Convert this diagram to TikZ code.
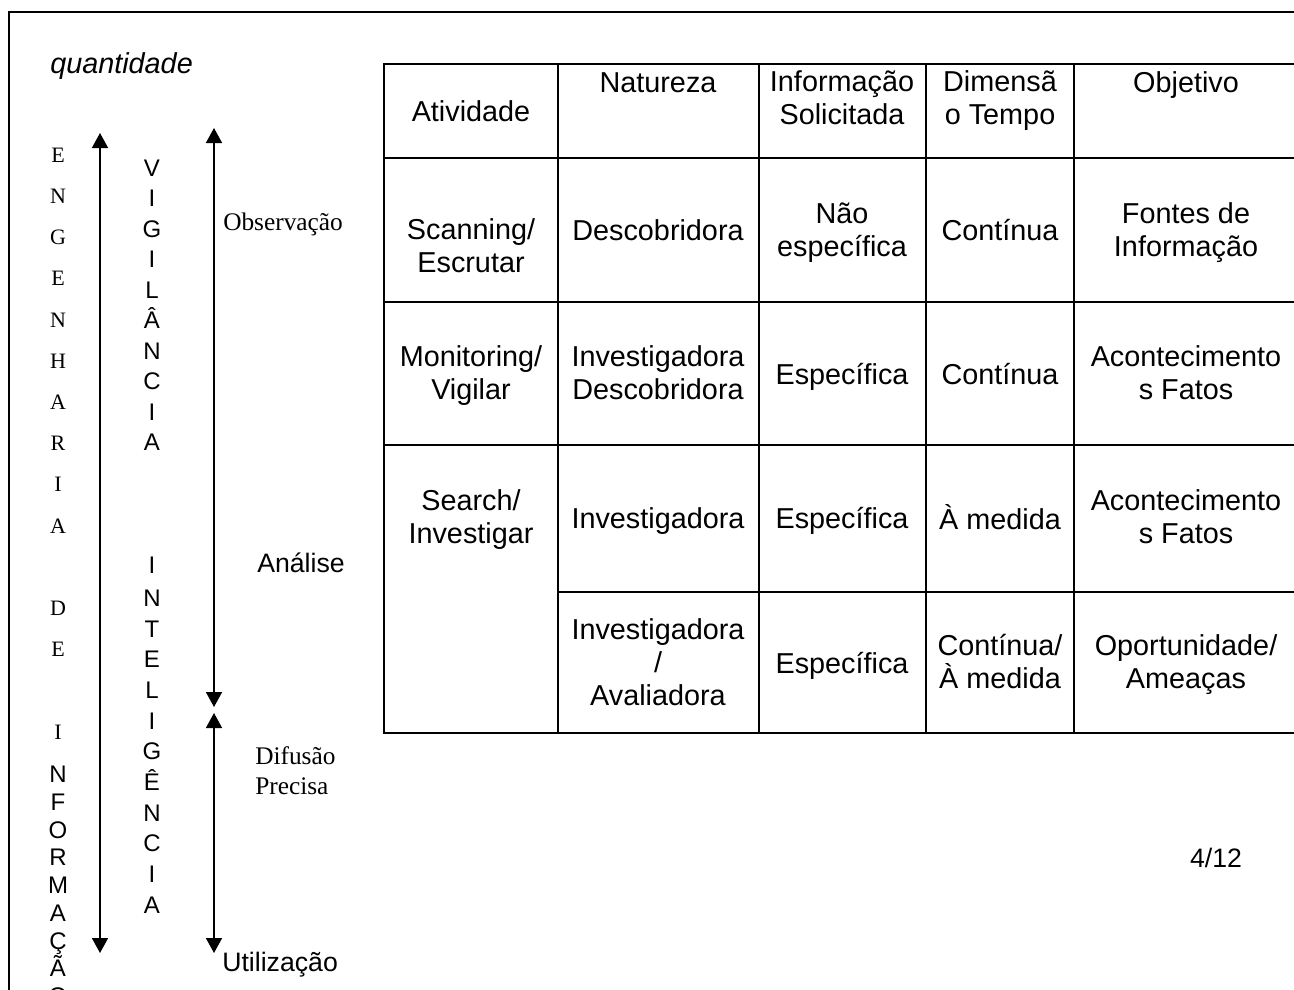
\documentclass[tikz,border=0pt]{standalone}
\usepackage{fontspec}
\setmainfont{Liberation Serif}
\newfontfamily\arialfont{Liberation Sans}
\usetikzlibrary{arrows.meta}

\tikzset{
  % struts on first and last line keep the vertical centring independent of the glyphs
  strutted/.style={inner sep=0pt, execute at begin node=\strut, execute at end node=\strut},
  cell/.style={strutted, align=center, font=\arialfont\fontsize{21.6}{24.75}\selectfont, yshift=-2.78pt},
  sanslabel/.style={strutted, align=left, font=\arialfont\fontsize{20}{23}\selectfont, yshift=-2.56pt},
  seriflabel/.style={strutted, align=left, font=\fontsize{19}{22.5}\selectfont, yshift=-1.79pt},
  italiclabel/.style={strutted, font=\arialfont\itshape\fontsize{21.6}{24.75}\selectfont, yshift=-2.78pt},
  serifstack/.style={inner sep=0pt, align=center, font=\fontsize{16.5}{30.9}\selectfont},
  sansstack/.style={inner sep=0pt, align=center, font=\arialfont\fontsize{18}{#1}\selectfont},
  gridline/.style={line width=1pt},
  frameline/.style={line width=1.1pt},
  flow/.style={line width=1.2pt, {Triangle[width=12pt,length=11.25pt]}-{Triangle[width=12pt,length=11.25pt]}},
}

\begin{document}
\begin{tikzpicture}[x=0.75pt,y=-0.75pt]
\useasboundingbox (0,0) rectangle (1294,989);

% page frame
\draw[frameline] (9,992) -- (9,12) -- (1300,12);

% table grid
\draw[gridline] (384,64) rectangle (1300,733);
\foreach \cx in {558,759,926,1074} \draw[gridline] (\cx,64) -- (\cx,733);
\foreach \ry in {158,302,445} \draw[gridline] (384,\ry) -- (1300,\ry);
\draw[gridline] (558,592) -- (1300,592);

% header row
\node[cell] (h1) at (471,111) {Atividade};
\node[cell] (h2) at (658,82) {Natureza};
\node[cell] (h3) at (842,98.5) {Informação\\Solicitada};
\node[cell] (h4) at (1000,98.5) {Dimensã\\o Tempo};
\node[cell] (h5) at (1186,82) {Objetivo};

% scanning
\node[cell] (a1) at (471,246.5) {Scanning/\\Escrutar};
\node[cell] (a2) at (658,230) {Descobridora};
\node[cell] (a3) at (842,230.5) {Não\\específica};
\node[cell] (a4) at (1000,230) {Contínua};
\node[cell] (a5) at (1186,230.5) {Fontes de\\Informação};

% monitoring
\node[cell] (b1) at (471,373.5) {Monitoring/\\Vigilar};
\node[cell] (b2) at (658,373.5) {Investigadora\\Descobridora};
\node[cell] (b3) at (842,374) {Específica};
\node[cell] (b4) at (1000,374) {Contínua};
\node[cell] (b5) at (1186,373.5) {Acontecimento\\s Fatos};

% search
\node[cell] (c1) at (471,517.5) {Search/\\Investigar};
\node[cell] (c2) at (658,518) {Investigadora};
\node[cell] (c3) at (842,518) {Específica};
\node[cell] (c4) at (1000,518) {À medida};
\node[cell] (c5) at (1186,517.5) {Acontecimento\\s Fatos};

\node[cell] (d2) at (658,663) {Investigadora\\/\\Avaliadora};
\node[cell] (d3) at (842,663) {Específica};
\node[cell] (d4) at (1000,662.5) {Contínua/\\À medida};
\node[cell] (d5) at (1186,662.5) {Oportunidade/\\Ameaças};

% page number
\node[sanslabel] (pg) at (1216,858) {4/12};

% left-hand scale
\node[italiclabel, anchor=west] (qty) at (50,63) {quantidade};

\node[serifstack] (eng) at (58,443.4)
  {E\\N\\G\\E\\N\\H\\A\\R\\I\\A\\~\\D\\E\\~\\I};
\node[sansstack=20.8pt] (info) at (58,885.5)
  {N\\F\\O\\R\\M\\A\\Ç\\Ã\\O};
\node[sansstack=22.9pt] (vig) at (152,305.25)
  {V\\I\\G\\I\\L\\Â\\N\\C\\I\\A};
\node[sansstack=23pt] (intel) at (152,735)
  {I\\[1.7pt]N\\T\\E\\L\\I\\G\\Ê\\N\\C\\I\\A};

\coordinate (engtop) at (100,133);
\coordinate (engbot) at (100,953);
\coordinate (obstop) at (214,128);
\coordinate (obsbot) at (214,707);
\coordinate (diftop) at (214,713);
\coordinate (difbot) at (214,953);

\draw[flow] (engtop) -- (engbot);
\draw[flow] (obstop) -- (obsbot);
\draw[flow] (diftop) -- (difbot);

\node[seriflabel, anchor=west] (obs) at (223,222) {Observação};
\node[sanslabel, anchor=west] (ana) at (257,563) {Análise};
\node[seriflabel, anchor=west] (dif) at (255,773) {Difusão\\Precisa};
\node[sanslabel, anchor=west] (uti) at (222,962) {Utilização};
\end{tikzpicture}
\end{document}
